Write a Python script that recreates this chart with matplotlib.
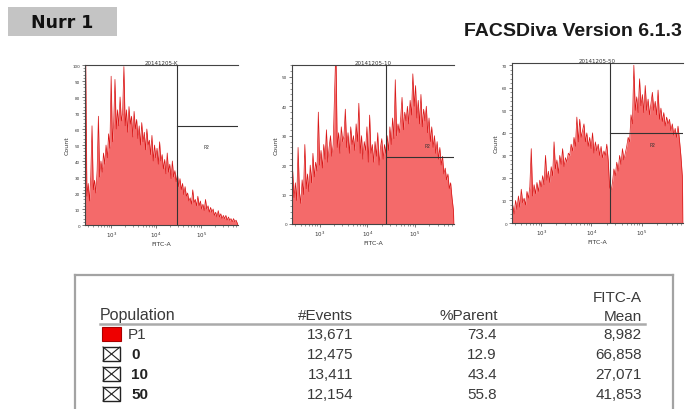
import numpy as np
import matplotlib
matplotlib.use("Agg")
import matplotlib.pyplot as plt
from matplotlib.patches import Rectangle
from matplotlib.lines import Line2D

# ---------------- data ----------------
sample_names = ["20141205-K", "20141205-10", "20141205-50"]

counts_K = [105, 18, 26, 15, 30, 62, 22, 28, 20, 34,
            68, 30, 40, 33, 45, 38, 50, 42, 57, 48,
            93, 52, 64, 91, 60, 72, 62, 80, 65, 70,
            99, 62, 72, 58, 74, 63, 68, 55, 71, 60,
            66, 54, 62, 50, 64, 52, 58, 47, 60, 50,
            53, 44, 56, 40, 50, 42, 48, 38, 52, 40,
            44, 35, 41, 32, 45, 33, 38, 29, 40, 30,
            34, 27, 32, 24, 29, 22, 26, 19, 24, 18,
            20, 15, 17, 13, 22, 14, 16, 12, 18, 12,
            15, 10, 13, 9, 16, 10, 12, 8, 11, 8,
            10, 6, 8, 5, 9, 5, 7, 4, 6, 4,
            6, 3, 5, 3, 4, 2, 4, 2, 3, 1]

counts_10 = [18, 9, 14, 8, 26, 11, 7, 15, 10, 27,
             12, 17, 11, 20, 14, 24, 16, 21, 18, 38,
             20, 25, 19, 27, 22, 32, 21, 26, 30, 23,
             27, 44, 60, 26, 31, 24, 33, 28, 30, 39,
             26, 31, 24, 33, 27, 30, 25, 34, 28, 41,
             24, 30, 22, 28, 25, 33, 21, 37, 24, 27,
             21, 28, 23, 31, 20, 26, 29, 22, 27, 24,
             30, 25, 33, 27, 36, 29, 49, 30, 34, 31,
             36, 43, 32, 38, 35, 40, 34, 42, 37, 51,
             40, 47, 36, 42, 34, 44, 33, 39, 35, 40,
             31, 36, 28, 33, 26, 30, 24, 28, 22, 26,
             20, 23, 17, 19, 15, 17, 12, 14, 9, 5]

counts_50 = [8, 4, 10, 6, 12, 7, 15, 9, 11, 8,
             14, 11, 16, 33, 12, 17, 13, 18, 14, 19,
             16, 21, 17, 30, 19, 23, 18, 25, 21, 36,
             24, 28, 22, 30, 26, 33, 25, 29, 27, 31,
             30, 35, 32, 38, 34, 47, 36, 46, 38, 41,
             44, 36, 40, 34, 38, 33, 40, 31, 36, 32,
             35, 30, 34, 29, 32, 30, 35, 28, 16, 14,
             18, 24, 21, 27, 23, 30, 26, 33, 28, 31,
             34, 38, 36, 48, 44, 70, 50, 56, 49, 64,
             52, 57, 49, 61, 50, 55, 48, 53, 58, 50,
             54, 48, 59, 46, 51, 45, 49, 43, 47, 44,
             46, 41, 44, 39, 42, 38, 43, 37, 30, 21]

all_counts = [counts_K, counts_10, counts_50]
count_max = [100, 54, 71]          # y-axis top (Count)
gate_start = [4.46, 4.40, 4.36]    # log10(FITC-A) of P2 gate start
gate_level = [62, 22.6, 40]        # Count level of P2 gate bar
p2_label_pos = [(5.13, 49), (5.26, 26.5), (5.21, 35)]
x_log_range = (2.42, 5.82)         # log10 FITC-A axis range
x_tick_decades = [3, 4, 5]

populations = ["P1", "0", "10", "50"]
n_events = [13671, 12475, 13411, 12154]
pct_parent = [73.4, 12.9, 43.4, 55.8]
fitc_mean = [8982, 66858, 27071, 41853]

# ---------------- figure ----------------
W, H = 687, 410
fig = plt.figure(figsize=(W / 100, H / 100), dpi=100)


def box(x0, y0, x1, y1):
    return [x0 / W, 1 - y1 / H, (x1 - x0) / W, (y1 - y0) / H]


# overlay axes in pixel coordinates for header + table
ov = fig.add_axes([0, 0, 1, 1])
ov.set_xlim(0, W)
ov.set_ylim(H, 0)
ov.axis("off")

# "Nurr 1" label
ov.add_patch(Rectangle((8, 8), 109, 29, fc="#c4c4c4", ec="none"))
ov.text(62, 23, "Nurr 1", ha="center", va="center", fontsize=12.5,
        fontweight="bold", family="DejaVu Sans", color="#111111")

ov.text(682, 32, "FACSDiva Version 6.1.3", ha="right", va="center",
        fontsize=14, fontweight="bold", family="Liberation Sans",
        color="#1a1a1a")

# ---------------- histograms ----------------
panel_boxes = [(85, 66, 238, 226), (292, 66, 454, 225), (512, 64, 683, 224)]
fill_col = "#f46a6a"
edge_col = "#d81414"
axis_col = "#444444"

for i, (bx, counts) in enumerate(zip(panel_boxes, all_counts)):
    ax = fig.add_axes(box(*bx))
    n = len(counts)
    edges = np.linspace(x_log_range[0], x_log_range[1], n + 1)
    centers = 0.5 * (edges[:-1] + edges[1:])
    xs = np.concatenate([[x_log_range[0]], centers, [x_log_range[1]]])
    ys = np.concatenate([[counts[0]], counts, [0]])
    ax.fill_between(xs, ys, 0, color=fill_col, lw=0, zorder=1)
    ax.plot(xs, ys, color=edge_col, lw=0.5, zorder=2)
    ax.set_xlim(*x_log_range)
    ax.set_ylim(0, count_max[i])

    # gate P2
    ax.axvline(gate_start[i], color="#333333", lw=0.8, zorder=3)
    ax.plot([gate_start[i], x_log_range[1]], [gate_level[i], gate_level[i]],
            color="#333333", lw=0.8, zorder=3)
    ax.text(*p2_label_pos[i], "P2", fontsize=3.5, ha="center", va="center",
            color="#333333", zorder=4)

    for s in ["left", "bottom", "top"]:
        ax.spines[s].set_color(axis_col)
        ax.spines[s].set_linewidth(0.8)
    ax.spines["right"].set_visible(False)

    ax.set_xticks(x_tick_decades)
    ax.set_xticklabels([f"$10^{d}$" for d in x_tick_decades], fontsize=4,
                       color="#333333")
    minors = [np.log10(k * 10.0 ** d) for d in range(2, 6) for k in range(2, 10)]
    minors = [m for m in minors if x_log_range[0] < m < x_log_range[1]]
    ax.set_xticks(minors, minor=True)
    ax.set_yticks(np.arange(0, count_max[i] + 0.1, 10))
    ax.set_yticklabels([f"{int(v)}" for v in np.arange(0, count_max[i] + 0.1, 10)],
                       fontsize=3, color="#333333")
    ax.set_yticks(np.arange(0, count_max[i] + 0.1, 2), minor=True)
    ax.tick_params(which="major", length=2.5, width=0.5, pad=1, color=axis_col)
    ax.tick_params(which="minor", length=1.3, width=0.4, color=axis_col)
    ax.set_xlabel("FITC-A", fontsize=4.5, labelpad=1.5, color="#333333")
    ax.set_ylabel("Count", fontsize=4.5, labelpad=2, color="#333333")
    ax.text(0.5, 1.0, sample_names[i], transform=ax.transAxes, ha="center",
            va="bottom", fontsize=4, color="#333333")
    ax.set_zorder(2)

# ---------------- table ----------------
frame_col = "#a3a3a3"
ov.add_line(Line2D([75, 673], [276, 276], color=frame_col, lw=1.6))
ov.add_line(Line2D([75, 75], [276, 412], color=frame_col, lw=1.6))
ov.add_line(Line2D([673, 673], [276, 412], color=frame_col, lw=1.6))
ov.add_line(Line2D([100, 645], [325, 325], color="#aaaaaa", lw=1.8))

tfont = dict(family="Liberation Sans", fontsize=11, color="#3a3a3a")
ov.text(100, 316, "Population", ha="left", va="center",
        family="Liberation Sans", fontsize=11.5, color="#3a3a3a")
ov.text(353, 316, "#Events", ha="right", va="center", **tfont)
ov.text(498, 316, "%Parent", ha="right", va="center", **tfont)
ov.text(642, 298, "FITC-A", ha="right", va="center", **tfont)
ov.text(642, 317, "Mean", ha="right", va="center", **tfont)

row_y = [335, 355, 375, 395]
for j, pop in enumerate(populations):
    y = row_y[j]
    if j == 0:
        ov.add_patch(Rectangle((102, y - 7), 19, 14, fc="#ee0000",
                               ec="#aa0000", lw=0.8))
        ov.text(128, y, pop, ha="left", va="center", **tfont)
    else:
        ov.add_patch(Rectangle((103, y - 7), 17, 14, fc="white",
                               ec="#222222", lw=1.0))
        ov.add_line(Line2D([103, 120], [y - 7, y + 7], color="#222222", lw=0.8))
        ov.add_line(Line2D([103, 120], [y + 7, y - 7], color="#222222", lw=0.8))
        ov.text(131, y, pop, ha="left", va="center", fontweight="bold",
                family="Liberation Sans", fontsize=11, color="#222222")
    ov.text(353, y, f"{n_events[j]:,}", ha="right", va="center", **tfont)
    ov.text(497, y, f"{pct_parent[j]:.1f}", ha="right", va="center", **tfont)
    ov.text(642, y, f"{fitc_mean[j]:,}", ha="right", va="center", **tfont)

fig.savefig("out.png", dpi=100)
